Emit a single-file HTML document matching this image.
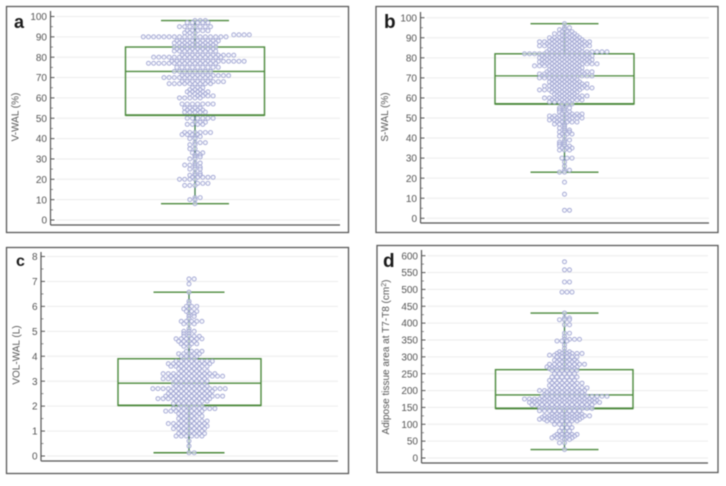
<!DOCTYPE html>
<html>
<head>
<meta charset="utf-8">
<title>Box and swarm plots</title>
<style>
html,body{margin:0;padding:0;background:#fff;width:726px;height:486px;overflow:hidden}
svg{display:block;filter:blur(0.45px)}
text{font-family:"Liberation Sans",sans-serif;fill:#555}
</style>
</head>
<body>
<svg id="chart" width="726" height="486" viewBox="0 0 726 486" xmlns="http://www.w3.org/2000/svg"></svg>
<script>
// Panel a: V-WAL (%)
const ticksA = [0,10,20,30,40,50,60,70,80,90,100];
const boxA = [51.5,73,85,8,98];
const valuesA = [98,97,95,93,92,91,90,88,87,86,85,84,83,81,80,78,77,75,73,71,70,68,67,65,64,63,62,61,60,57,55,54,53,50,48,47,43,42,41,40,38,37,35,33,32,31,30,28,27,26,25,23,22,21,20,18,17,11,10,8];
const leftA = [0,2,3,2,2,-7,10,4,4,3,4,4,4,3,8,5,9,4,4,3,6,3,5,1,1,2,1,0,3,3,2,2,2,2,0,2,2,3,0,1,0,1,1,1,0,0,1,0,2,0,1,0,1,1,3,0,2,0,1,0];
const rightA = [2,2,3,2,0,10,6,4,4,3,4,3,4,7,5,9,4,4,3,6,3,5,3,1,1,2,2,3,1,3,1,1,2,3,2,1,3,0,1,0,2,0,0,1,1,1,0,1,0,1,1,1,1,3,0,2,0,1,0,0];
// Panel b: S-WAL (%)
const ticksB = [0,10,20,30,40,50,60,70,80,90,100];
const boxB = [57,71,82,23,97];
const valuesB = [97,95,94,93,92,91,90,89,88,87,86,85,84,83,82,81,80,79,78,77,76,75,74,73,72,71,70,69,68,67,66,65,64,63,62,61,60,59,58,57,55,54,53,52,51,50,49,48,47,46,45,44,43,42,41,39,38,37,36,35,34,30,28,26,24,23,18,12,4];
const leftB = [0,0,1,1,2,1,3,3,5,4,5,3,3,4,8,5,5,5,5,5,6,3,3,4,5,5,5,3,3,3,4,3,5,3,2,2,4,3,3,1,1,1,1,1,3,3,3,2,2,0,1,0,1,1,1,0,1,1,1,1,1,1,0,0,0,1,0,0,0];
const rightB = [0,1,0,1,2,2,3,3,5,4,5,3,3,8,5,5,5,5,5,6,3,3,3,5,4,5,2,2,3,4,4,5,3,2,2,4,3,3,1,1,1,0,1,3,3,3,1,2,0,0,0,1,1,1,0,1,0,0,1,1,1,1,0,0,1,0,0,0,1];
// Panel c: VOL-WAL (L)
const ticksC = [0,1,2,3,4,5,6,7,8];
const boxC = [2.03,2.92,3.9,0.13,6.57];
const valuesC = [7.1,6.9,6.57,6.2,6.1,6.0,5.9,5.8,5.7,5.6,5.5,5.4,5.3,5.1,5.0,4.9,4.8,4.7,4.6,4.5,4.4,4.2,4.1,4.0,3.9,3.8,3.7,3.6,3.5,3.4,3.3,3.2,3.1,3.0,2.9,2.8,2.7,2.6,2.5,2.4,2.3,2.2,2.1,2.0,1.9,1.8,1.7,1.6,1.5,1.4,1.3,1.2,1.1,1.0,0.9,0.8,0.6,0.4,0.13];
const leftC = [0,0,0,0,0,1,1,1,0,0,0,2,1,0,1,1,1,3,2,2,1,1,2,2,1,3,4,4,2,2,5,4,5,3,3,3,7,4,4,5,6,3,3,2,3,5,2,2,2,2,4,3,3,2,2,3,0,0,0];
const rightC = [1,0,0,0,0,1,0,1,1,1,0,2,1,0,1,0,2,2,1,1,0,2,2,1,1,4,4,3,2,3,5,6,3,3,3,3,7,4,4,6,4,3,2,2,5,2,2,2,1,3,3,3,3,2,3,2,0,0,1];
// Panel d: Adipose tissue area at T7-T8 (cm2)
const ticksD = [0,50,100,150,200,250,300,350,400,450,500,550,600];
const boxD = [147,187,262,25,430];
const valuesD = [582,558,522,492,430,415,410,395,370,360,352,347,335,325,315,310,305,300,290,285,278,270,265,260,250,240,230,222,215,208,200,195,187,183,175,170,165,158,150,147,140,130,125,120,115,110,100,90,80,70,65,60,55,45,25];
const leftD = [0,0,0,1,0,0,1,0,0,0,0,2,0,0,1,2,3,2,2,2,3,4,3,3,2,3,3,3,3,3,5,4,4,5,8,7,7,7,5,5,5,3,4,5,5,4,2,1,1,2,2,3,0,1,0];
const rightD = [0,1,1,1,0,1,1,1,1,0,3,0,0,0,1,3,1,2,2,2,4,2,2,2,2,2,2,3,2,4,4,3,4,8,6,6,7,5,5,5,3,3,5,3,3,2,1,1,1,2,2,1,1,0,0];

const svg = document.getElementById('chart');
const NS = 'http://www.w3.org/2000/svg';
const GREEN = '#4c8a3c';

function make(tag, attrs, parent) {
  const el = document.createElementNS(NS, tag);
  for (const k in attrs) el.setAttribute(k, attrs[k]);
  parent.appendChild(el);
  return el;
}

function drawPanel(p) {
  const g = make('g', {}, svg);
  
  

  const frame = make('rect', {x:p.fx, y:p.fy, width:p.fw, height:p.fh, fill:'#fff', stroke:'#5a5a5a', 'stroke-width':1.3}, g);
  
  

  const minV = p.ticks[0];
  const maxV = p.ticks[p.ticks.length - 1];
  const yScale = v => p.yZero - (v - minV) / (maxV - minV) * (p.yZero - p.yMax);

  // grid, ticks and tick labels
  p.ticks.forEach((t, i) => {
    const y = yScale(t);
    const grid = make('line', {x1:p.axisX + 6, x2:p.axisEnd, y1:y, y2:y, stroke:'#ececec', 'stroke-width':1}, g);
    
    
    const tick = make('line', {x1:p.axisX, x2:p.axisX + 4, y1:y, y2:y, stroke:'#555', 'stroke-width':1}, g);
    
    
    const label = make('text', {x:p.axisX - 3.5, y:y + 3.6, 'text-anchor':'end', 'font-size':10}, g);
    
    
    label.textContent = t;
    if (i < p.ticks.length - 1) {
      const my = yScale((t + p.ticks[i + 1]) / 2);
      const minor = make('line', {x1:p.axisX, x2:p.axisX + 2.5, y1:my, y2:my, stroke:'#777', 'stroke-width':0.8}, g);
      
      
    }
  });

  // axes
  const yAxis = make('line', {x1:p.axisX, x2:p.axisX, y1:p.axisTop, y2:p.axisY, stroke:'#555', 'stroke-width':1.2}, g);
  
  
  const xAxis = make('line', {x1:p.axisX, x2:p.axisEnd, y1:p.axisY, y2:p.axisY, stroke:'#555', 'stroke-width':1.2}, g);
  
  

  // box, caps and whiskers
  const [q1, med, q3, lo, hi] = p.box;
  const whiskerHi = make('line', {x1:p.cx, x2:p.cx, y1:yScale(q3), y2:yScale(hi), stroke:'#3f7f4a', 'stroke-width':1.3}, g);
  
  
  const whiskerLo = make('line', {x1:p.cx, x2:p.cx, y1:yScale(q1), y2:yScale(lo), stroke:'#3f7f4a', 'stroke-width':1.3}, g);
  
  
  const capHi = make('line', {x1:p.cx - p.capHalf, x2:p.cx + p.capHalf, y1:yScale(hi), y2:yScale(hi), stroke:GREEN, 'stroke-width':1.4}, g);
  
  
  const capLo = make('line', {x1:p.cx - p.capHalf, x2:p.cx + p.capHalf, y1:yScale(lo), y2:yScale(lo), stroke:GREEN, 'stroke-width':1.4}, g);
  
  
  const box = make('rect', {x:p.boxL, y:yScale(q3), width:p.boxR - p.boxL, height:yScale(q1) - yScale(q3), fill:'none', stroke:GREEN, 'stroke-width':1.4}, g);
  
  
  const q1Line = make('line', {x1:p.boxL, x2:p.boxR, y1:yScale(q1), y2:yScale(q1), stroke:GREEN, 'stroke-width':1.8}, g);
  
  
  const medLine = make('line', {x1:p.boxL, x2:p.boxR, y1:yScale(med), y2:yScale(med), stroke:GREEN, 'stroke-width':1.3}, g);
  
  

  // swarm points, one row per value
  p.values.forEach((v, r) => {
    const l = p.left[r];
    const n = p.right[r];
    const shift = (l + n >= 2 && r % 2 === 1) ? p.step / 2 : 0;
    for (let i = -l; i <= n; i++) {
      const c = make('circle', {cx:p.cx + i * p.step + shift, cy:yScale(v), r:2, fill:'rgba(240,241,252,0.6)', stroke:'#9ca1d0', 'stroke-width':0.85}, g);
      
      
    }
  });

  // labels
  const letter = make('text', {x:p.letterX, y:p.letterY, 'font-size':p.letterSize, 'font-weight':'bold', style:'fill:#1a1a1a'}, g);
  
  
  letter.textContent = p.letter;

  const title = make('text', {x:0, y:0, 'text-anchor':'middle', 'font-size':p.titleSize, transform:'translate(' + p.titleX + ',' + p.titleY + ') rotate(-90)'}, g);
  
  
  title.textContent = p.title;
  if (p.titleSup) {
    const sup = make('tspan', {'font-size':7, dy:-3}, title);
    sup.textContent = p.titleSup;
    const end = make('tspan', {dy:3}, title);
    end.textContent = ')';
  }
}

drawPanel({letter:'a', title:'V-WAL (%)', titleX:18.5, titleY:117, titleSize:10,
  fx:6.5, fy:6.5, fw:342, fh:226, axisX:50.5, axisY:225, axisTop:11, axisEnd:340, yZero:220, yMax:16.5,
  cx:195, boxL:125.5, boxR:264.5, capHalf:34, step:5.17, letterX:14, letterY:28, letterSize:18,
  ticks:ticksA, box:boxA, values:valuesA, left:leftA, right:rightA});

drawPanel({letter:'b', title:'S-WAL (%)', titleX:388, titleY:117, titleSize:10,
  fx:376, fy:6.5, fw:342, fh:226, axisX:420.5, axisY:223, axisTop:12, axisEnd:709, yZero:218.3, yMax:17.7,
  cx:564.5, boxL:495, boxR:634, capHalf:34, step:5, letterX:384, letterY:28, letterSize:19,
  ticks:ticksB, box:boxB, values:valuesB, left:leftB, right:rightB});

drawPanel({letter:'c', title:'VOL-WAL (L)', titleX:19.5, titleY:355, titleSize:10,
  fx:6.5, fy:247.5, fw:342, fh:226, axisX:41, axisY:461, axisTop:252, axisEnd:338, yZero:456, yMax:256.5,
  cx:189, boxL:118, boxR:261, capHalf:35.5, step:5.17, letterX:16, letterY:266, letterSize:16,
  ticks:ticksC, box:boxC, values:valuesC, left:leftC, right:rightC});

drawPanel({letter:'d', title:'Adipose tissue area at T7-T8 (cm', titleSup:'2', titleX:389, titleY:357, titleSize:10,
  fx:377, fy:245.5, fw:341, fh:227, axisX:421.5, axisY:463, axisTop:250, axisEnd:708, yZero:458, yMax:255.7,
  cx:564.5, boxL:495.5, boxR:633, capHalf:34, step:5, letterX:383, letterY:267, letterSize:19,
  ticks:ticksD, box:boxD, values:valuesD, left:leftD, right:rightD});
</script>
</body>
</html>
